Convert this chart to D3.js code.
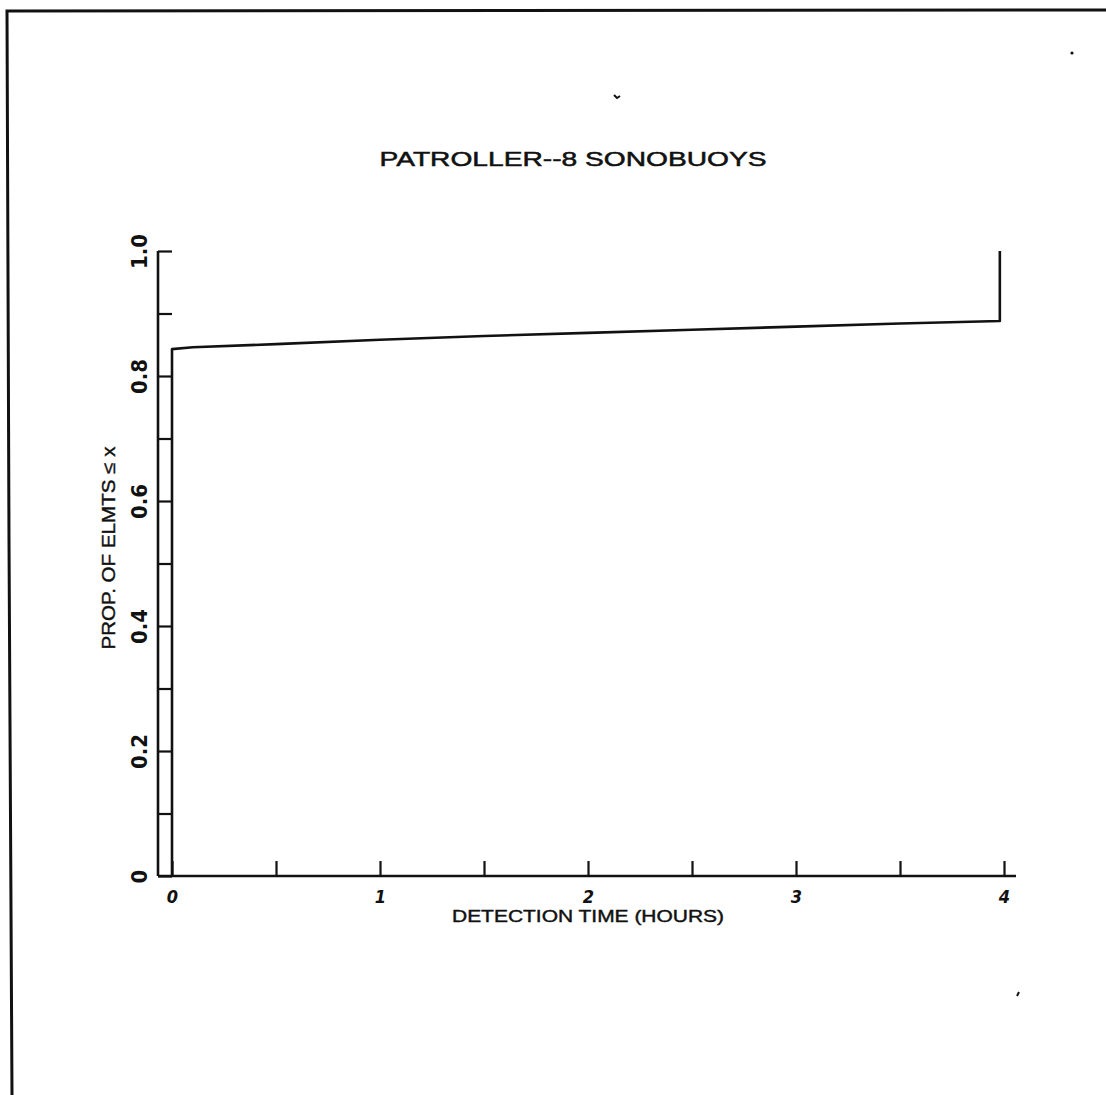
<!DOCTYPE html>
<html>
<head>
<meta charset="utf-8">
<script src="https://d3js.org/d3.v7.min.js"></script>
<style>
    body { margin: 0; background: #fff; }
    text { fill: #111; }
</style>
</head>
<body>
<div id="container"></div>
<script>
var svgWidth = 1106;
var svgHeight = 1095;

var hours = [0, 0, 0.1, 0.5, 1, 1.5, 2, 2.5, 3, 3.5, 3.98, 3.98];
var proportions = [0, 0.843, 0.846, 0.851, 0.858, 0.864, 0.869, 0.874, 0.879, 0.884, 0.888, 1.0];

var xTicks = [0, 0.5, 1, 1.5, 2, 2.5, 3, 3.5, 4];
var xTickLabels = ['0', '', '1', '', '2', '', '3', '', '4'];
var yTicks = [0, 0.1, 0.2, 0.3, 0.4, 0.5, 0.6, 0.7, 0.8, 0.9, 1.0];
var yTickLabels = ['0', '', '0.2', '', '0.4', '', '0.6', '', '0.8', '', '1.0'];

var titleText = 'PATROLLER--8 SONOBUOYS';
var xTitle = 'DETECTION TIME (HOURS)';
var yTitle = 'PROP. OF ELMTS \u2264 x';

var ink = '#111';
var narrowFont = '"Liberation Sans Narrow", "DejaVu Sans Condensed", Arial, sans-serif';
var labelFont = 'Arial, "Liberation Sans", sans-serif';

var svg = d3.select('body').select('#container').append('svg')
        .attr("width", svgWidth)
        .attr("height", svgHeight)
;

// scanned page edge (top and left only)
svg.append('path')
    .attr('d', 'M12,1095 L9,540 L7,11 L1106,10')
    .style('fill', 'none')
    .style('stroke', ink)
    .style('stroke-width', 3)
;

var x = d3.scaleLinear().domain([0, 4]).range([172, 1004]);
var y = d3.scaleLinear().domain([0, 1]).range([876, 251]);

var yAxisX = 158;

// axis lines
svg.append('line')
    .attr('x1', yAxisX).attr('x2', yAxisX)
    .attr('y1', y(1)).attr('y2', y(0))
    .style('stroke', ink).style('stroke-width', 2.6)
;
svg.append('line')
    .attr('x1', yAxisX).attr('x2', x(4) + 12)
    .attr('y1', y(0)).attr('y2', y(0))
    .style('stroke', ink).style('stroke-width', 2.6)
;

var yAxis = d3.axisLeft(y)
    .tickValues(yTicks)
    .tickSizeInner(-14)
    .tickSizeOuter(0)
    .tickFormat(function (d, i) { return yTickLabels[i]; })
;

var yG = svg.append('g')
    .attr('transform', 'translate(' + yAxisX + ',0)')
    .call(yAxis)
;
yG.select('.domain').remove();
yG.selectAll('.tick line').style('stroke', ink).style('stroke-width', 2.2);
yG.selectAll('.tick text')
    .attr('x', null)
    .attr('dy', null)
    .attr('transform', 'translate(-11,0) rotate(-90)')
    .style('text-anchor', 'middle')
    .style('font-family', narrowFont)
    .style('font-size', '22px')
    .style('font-weight', 'bold')
    .style('fill', ink)
;

var xAxis = d3.axisBottom(x)
    .tickValues(xTicks)
    .tickSizeInner(-15)
    .tickSizeOuter(0)
    .tickFormat(function (d, i) { return xTickLabels[i]; })
;

var xG = svg.append('g')
    .attr('transform', 'translate(0,' + y(0) + ')')
    .call(xAxis)
;
xG.select('.domain').remove();
xG.selectAll('.tick line').style('stroke', ink).style('stroke-width', 2.2);
xG.selectAll('.tick text')
    .attr('y', 27)
    .attr('dy', null)
    .style('font-family', narrowFont)
    .style('font-size', '18px')
    .style('font-weight', 'bold')
    .style('font-style', 'italic')
    .style('fill', ink)
;

// the curve
var points = hours.map(function (h, i) { return [h, proportions[i]]; });

var line = d3.line()
    .x(function (d) { return x(d[0]); })
    .y(function (d) { return y(d[1]); })
;

svg.append('path')
    .datum(points)
    .attr('d', line)
    .style('fill', 'none')
    .style('stroke', ink)
    .style('stroke-width', 2.6)
    .style('stroke-linejoin', 'round')
;

// titles
svg.append('text')
    .attr('x', 573)
    .attr('y', 166)
    .attr('textLength', 387)
    .attr('lengthAdjust', 'spacingAndGlyphs')
    .style('text-anchor', 'middle')
    .style('font-family', labelFont)
    .style('font-size', '20px')
    .style('stroke', ink)
    .style('stroke-width', 0.5)
    .text(titleText)
;

svg.append('text')
    .attr('x', 588)
    .attr('y', 922)
    .attr('textLength', 272)
    .attr('lengthAdjust', 'spacingAndGlyphs')
    .style('text-anchor', 'middle')
    .style('font-family', labelFont)
    .style('font-size', '16px')
    .style('stroke', ink)
    .style('stroke-width', 0.4)
    .text(xTitle)
;

svg.append('text')
    .attr('transform', 'translate(115,548) rotate(-90)')
    .attr('textLength', 203)
    .attr('lengthAdjust', 'spacingAndGlyphs')
    .style('text-anchor', 'middle')
    .style('font-family', labelFont)
    .style('font-size', '18px')
    .style('stroke', ink)
    .style('stroke-width', 0.4)
    .text(yTitle)
;

// specks left on the scan
svg.append('path')
    .attr('d', 'M614,95 L617,98 L620,96')
    .style('fill', 'none').style('stroke', ink).style('stroke-width', 2)
;
svg.append('circle').attr('cx', 1072).attr('cy', 53).attr('r', 1.6).style('fill', ink);
svg.append('path')
    .attr('d', 'M1017,996 L1019,992')
    .style('fill', 'none').style('stroke', ink).style('stroke-width', 2)
;
</script>
</body>
</html>
